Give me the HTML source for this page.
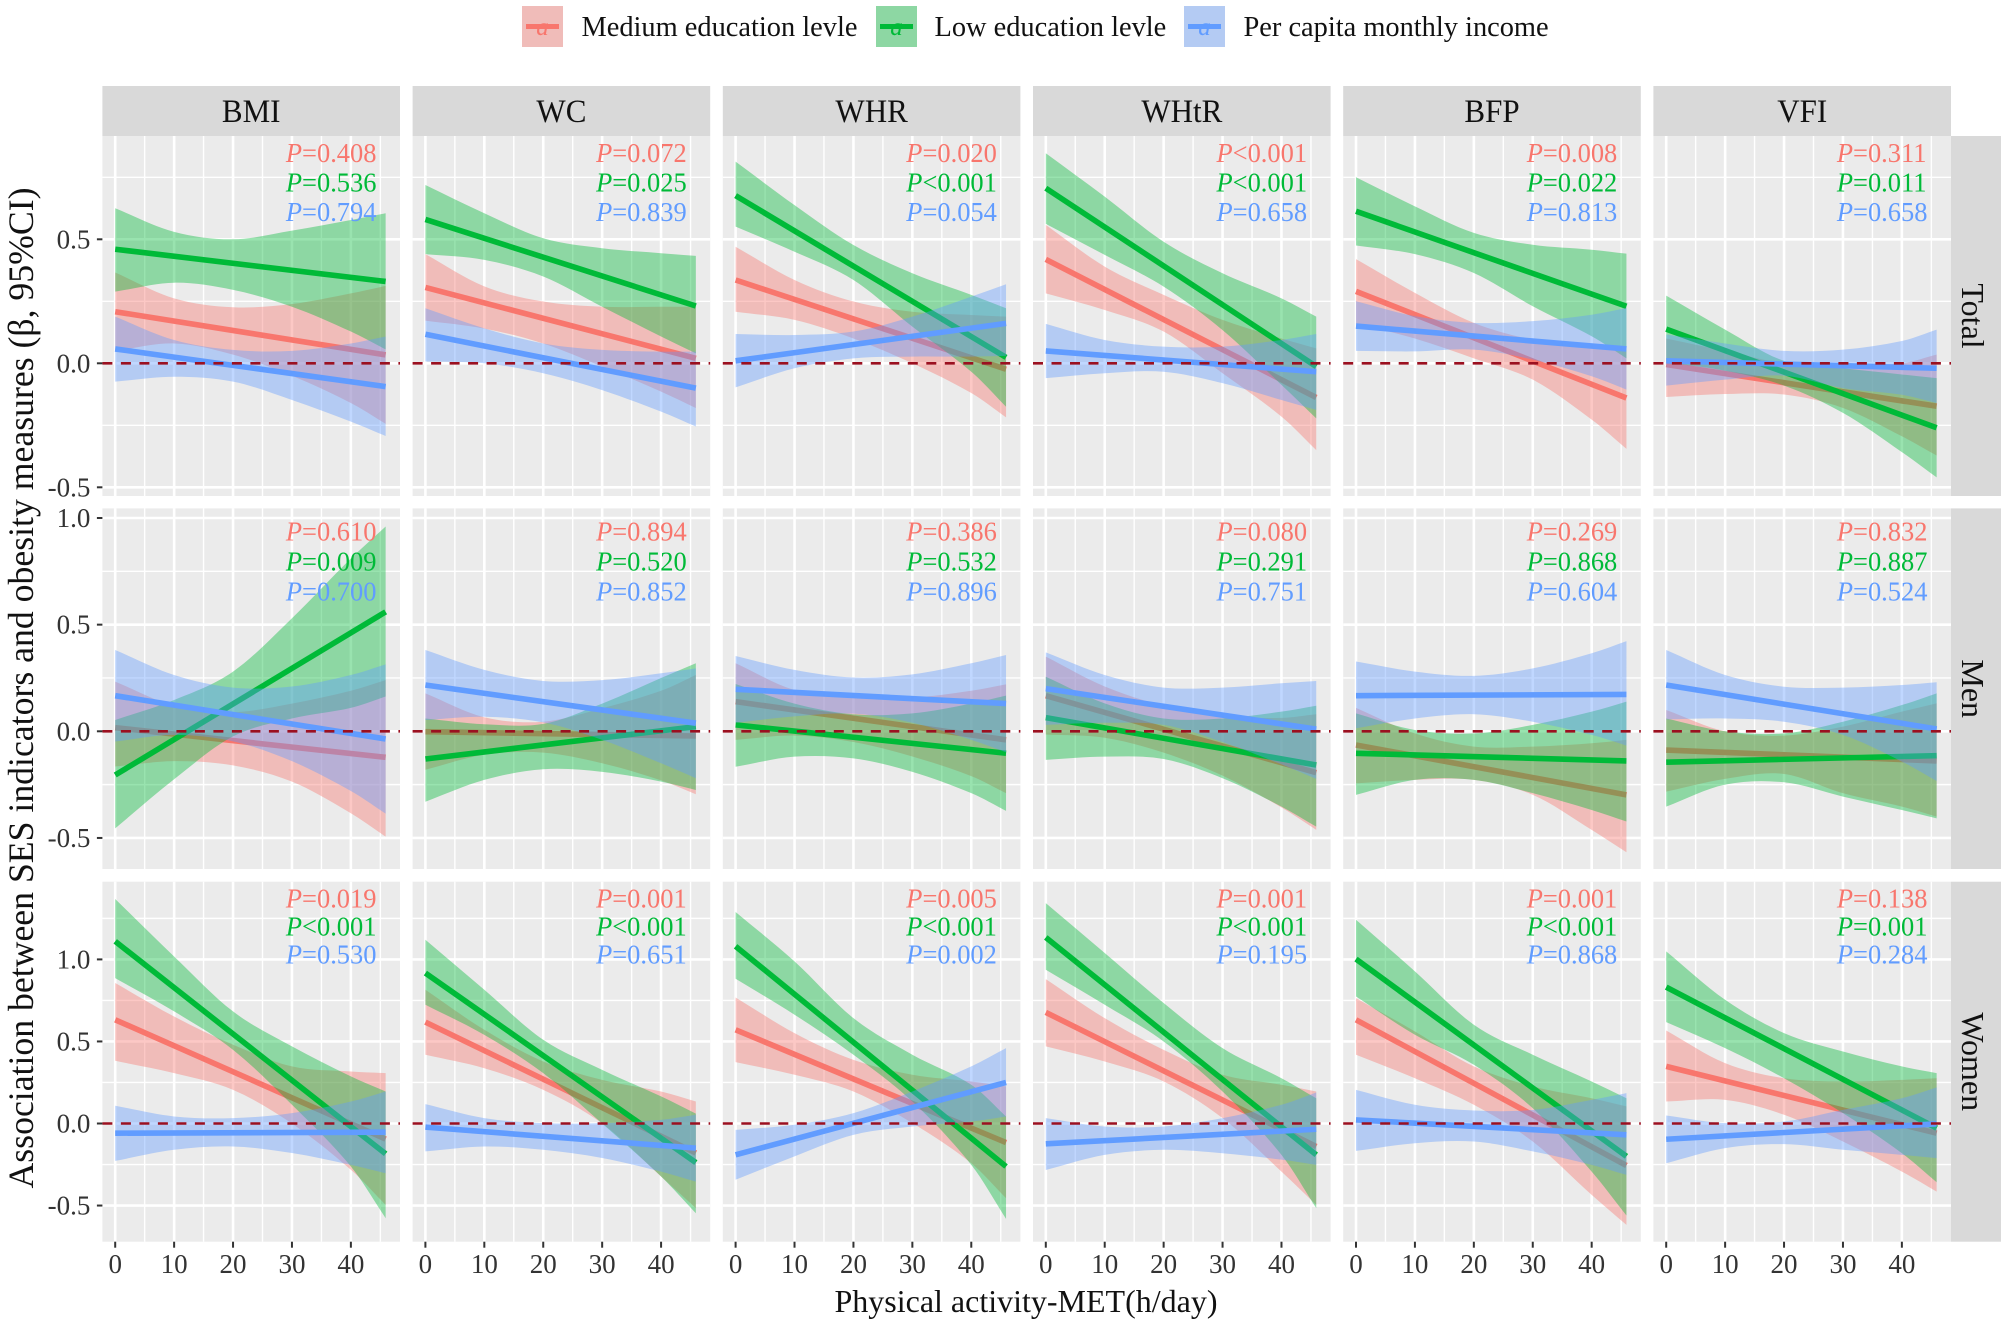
<!DOCTYPE html>
<html lang="en">
<head>
<meta charset="utf-8">
<title>SES indicators and obesity measures by physical activity</title>
<style>
html,body{margin:0;padding:0;background:#fff;}
svg{display:block;font-family:"Liberation Serif","Times New Roman",serif;}
</style>
</head>
<body>
<svg id="chart" xmlns="http://www.w3.org/2000/svg" width="2008" height="1325" viewBox="0 0 2008 1325">
  <rect x="0" y="0" width="2008" height="1325" fill="#fff"/>

  <g>
    <g>
      <rect x="522" y="6" width="41" height="41" fill="#EBEBEB"/>
      <rect x="522" y="6" width="41" height="41" fill="#F8766D" fill-opacity="0.4"/>
      <line x1="526" y1="26.5" x2="559" y2="26.5" stroke="#F8766D" stroke-width="5"/>
      <text x="542.5" y="35" text-anchor="middle" font-size="25" font-style="italic" fill="#F8766D">a</text>
      <text x="581.5" y="36" font-size="28.4" fill="#111">Medium education levle</text>
    </g>
    <g>
      <rect x="876" y="6" width="41" height="41" fill="#EBEBEB"/>
      <rect x="876" y="6" width="41" height="41" fill="#00BA38" fill-opacity="0.4"/>
      <line x1="880" y1="26.5" x2="913" y2="26.5" stroke="#00BA38" stroke-width="5"/>
      <text x="896.5" y="35" text-anchor="middle" font-size="25" font-style="italic" fill="#00BA38">a</text>
      <text x="934.5" y="36" font-size="28.4" fill="#111">Low education levle</text>
    </g>
    <g>
      <rect x="1184" y="6" width="41" height="41" fill="#EBEBEB"/>
      <rect x="1184" y="6" width="41" height="41" fill="#619CFF" fill-opacity="0.4"/>
      <line x1="1188" y1="26.5" x2="1221" y2="26.5" stroke="#619CFF" stroke-width="5"/>
      <text x="1204.5" y="35" text-anchor="middle" font-size="25" font-style="italic" fill="#619CFF">a</text>
      <text x="1243.5" y="36" font-size="28.4" fill="#111">Per capita monthly income</text>
    </g>
  </g>

  <g>
    <rect x="102.4" y="86" width="297.6" height="50" fill="#D9D9D9"/>
    <rect x="412.6" y="86" width="297.6" height="50" fill="#D9D9D9"/>
    <rect x="722.8" y="86" width="297.6" height="50" fill="#D9D9D9"/>
    <rect x="1033" y="86" width="297.6" height="50" fill="#D9D9D9"/>
    <rect x="1343.2" y="86" width="297.6" height="50" fill="#D9D9D9"/>
    <rect x="1653.4" y="86" width="297.6" height="50" fill="#D9D9D9"/>
    <g font-size="33" text-anchor="middle" fill="#111">
      <text transform="translate(251.2,122) scale(.94,1)">BMI</text>
      <text transform="translate(561.4,122) scale(.94,1)">WC</text>
      <text transform="translate(871.6,122) scale(.94,1)">WHR</text>
      <text transform="translate(1181.8,122) scale(.94,1)">WHtR</text>
      <text transform="translate(1492,122) scale(.94,1)">BFP</text>
      <text transform="translate(1802.2,122) scale(.94,1)">VFI</text>
    </g>
  </g>

  <g>
    <rect x="1951" y="136" width="50" height="360" fill="#D9D9D9"/>
    <rect x="1951" y="508.4" width="50" height="360.6" fill="#D9D9D9"/>
    <rect x="1951" y="881.7" width="50" height="360" fill="#D9D9D9"/>
    <g font-size="32" text-anchor="middle" fill="#111">
      <text transform="translate(1962,316) rotate(90)">Total</text>
      <text transform="translate(1962,688.7) rotate(90)">Men</text>
      <text transform="translate(1962,1061.7) rotate(90)">Women</text>
    </g>
  </g>

  <g id="panels"></g>

  <text transform="translate(33,688) rotate(-90)" text-anchor="middle" font-size="36" fill="#111" textLength="1001" lengthAdjust="spacingAndGlyphs">Association between SES indicators and obesity measures (β, 95%CI)</text>
  <text x="1026" y="1312" text-anchor="middle" font-size="32" fill="#111">Physical activity-MET(h/day)</text>
</svg>

<script>
// ---------- data (18 panels: Total row, Men row, Women row; columns BMI WC WHR WHtR BFP VFI) ----------
const rowNames = ["total","men","women"];
const colNames = ["bmi","wc","whr","whtr","bfp","vfi"];
const xTicks = [0,10,20,30,40];
const xMinorTicks = [5,15,25,35,45];
const xKnots = [0,10,20,30,40,45.9];
const xLineEnds = [0,45.9];
const yTicksTotal = [0.5,0,-0.5];
const yTicksMen = [1,0.5,0,-0.5];
const yTicksWomen = [1,0.5,0,-0.5];
const yMinorTotal = [0.75,0.25,-0.25];
const yMinorMen = [0.75,0.25,-0.25];
const yMinorWomen = [1.25,0.75,0.25,-0.25];

const mediumMean = [
[.208,.034],[.306,.02],[.336,-.024],[.419,-.138],[.29,-.14],[-.005,-.173],
[.017,-.122],[-.002,-.022],[.139,-.04],[.167,-.194],[-.064,-.298],[-.088,-.139],
[.632,-.095],[.618,-.18],[.571,-.116],[.677,-.14],[.632,-.256],[.348,-.059]];
const lowMean = [
[.46,.33],[.58,.231],[.676,.024],[.706,-.013],[.613,.23],[.138,-.26],
[-.205,.56],[-.13,.022],[.03,-.103],[.064,-.158],[-.103,-.139],[-.145,-.114],
[1.11,-.185],[.917,-.238],[1.08,-.262],[1.134,-.191],[1.002,-.2],[.831,-.028]];
const incomeMean = [
[.058,-.094],[.117,-.10],[.01,.161],[.05,-.034],[.15,.058],[.01,-.02],
[.167,-.036],[.217,.038],[.197,.13],[.20,.01],[.167,.173],[.217,.011],
[-.059,-.053],[-.022,-.15],[-.191,.25],[-.124,-.035],[.022,-.069],[-.096,-.002]];

const mediumUpper = [
[.366,.262,.226,.239,.282,.312],[.44,.31,.249,.228,.228,.228],[.47,.336,.249,.208,.195,.188],
[.558,.39,.276,.175,.10,.06],[.42,.284,.163,.095,.066,.06],[.10,.05,0,-.01,0,.035],
[.233,.12,.09,.13,.19,.24],[.178,.066,.045,.108,.19,.264],[.319,.194,.165,.158,.19,.22],
[.35,.21,.12,.072,.063,.08],[.11,-.01,-.072,-.072,-.056,-.04],[.1,0,-.02,.022,.092,.131],
[.856,.652,.48,.348,.317,.307],[.815,.571,.378,.266,.195,.134],[.768,.551,.388,.297,.256,.226],
[.88,.642,.449,.297,.236,.195],[.764,.561,.348,.226,.154,.104],[.567,.368,.276,.256,.266,.276]];
const mediumLower = [
[.05,.08,.035,-.05,-.16,-.244],[.172,.14,.08,-.013,-.114,-.18],[.208,.175,.10,0,-.12,-.218],
[.282,.215,.128,-.04,-.215,-.35],[.16,.10,.02,-.066,-.227,-.345],[-.136,-.124,-.126,-.18,-.294,-.372],
[-.165,-.14,-.16,-.236,-.384,-.494],[-.18,-.11,-.1,-.15,-.23,-.295],[-.04,-.02,-.05,-.118,-.21,-.29],
[-.015,-.03,-.10,-.208,-.357,-.462],[-.244,-.228,-.228,-.298,-.462,-.567],[-.283,-.223,-.2,-.29,-.353,-.40],
[.382,.307,.205,0,-.282,-.496],[.419,.337,.205,0,-.323,-.516],[.374,.297,.195,.002,-.242,-.455],
[.47,.378,.256,.033,-.293,-.496],[.419,.276,.114,-.11,-.435,-.618],[.134,.144,.053,-.11,-.293,-.415]];

const lowUpper = [
[.625,.53,.50,.535,.578,.605],[.719,.605,.504,.464,.444,.433],[.813,.638,.477,.363,.276,.222],
[.847,.672,.49,.363,.262,.188],[.75,.633,.526,.478,.458,.442],[.273,.136,.01,-.02,-.045,-.06],
[.053,.147,.28,.53,.81,.96],[.06,.033,.035,.13,.25,.319],[.222,.13,.08,.084,.13,.167],
[.256,.131,.06,.06,.092,.12],[.084,.006,-.01,.03,.092,.139],[.06,0,-.01,.045,.123,.178],
[1.368,1.018,.683,.47,.287,.195],[1.12,.815,.51,.327,.165,.06],[1.289,.988,.642,.419,.236,.043],
[1.343,1.039,.734,.459,.276,.154],[1.242,.927,.602,.419,.256,.154],[1.049,.754,.551,.439,.348,.307]];
const lowLower = [
[.289,.325,.296,.228,.128,.056],[.44,.417,.35,.228,.108,.04],[.551,.45,.336,.148,-.034,-.175],
[.562,.437,.309,.134,-.087,-.222],[.475,.44,.364,.23,.109,.02],[.003,-.03,-.09,-.2,-.358,-.46],
[-.455,-.225,-.024,.06,.11,.163],[-.33,-.228,-.178,-.19,-.236,-.275],[-.166,-.119,-.127,-.19,-.29,-.373],
[-.134,-.119,-.13,-.22,-.353,-.447],[-.298,-.228,-.228,-.29,-.369,-.423],[-.353,-.25,-.239,-.306,-.369,-.408],
[.886,.683,.449,.114,-.262,-.577],[.724,.54,.307,0,-.323,-.547],[.882,.663,.419,.134,-.252,-.581],
[.937,.724,.5,.195,-.191,-.516],[.774,.541,.358,.093,-.293,-.561],[.618,.459,.276,.063,-.181,-.358]];

const incomeUpper = [
[.188,.094,.054,.05,.08,.108],[.222,.141,.08,.054,.047,.047],[.118,.114,.128,.188,.269,.319],
[.159,.094,.067,.067,.094,.118],[.25,.19,.163,.17,.196,.223],[.116,.08,.05,.055,.09,.136],
[.381,.264,.205,.21,.264,.314],[.381,.288,.236,.24,.272,.295],[.353,.288,.252,.267,.319,.358],
[.37,.264,.205,.205,.225,.236],[.327,.28,.26,.295,.366,.423],[.381,.264,.209,.205,.217,.23],
[.108,.043,.033,.063,.134,.195],[.118,.033,.002,.002,.022,.053],[-.039,-.008,.063,.195,.348,.459],
[.033,-.018,-.018,.033,.114,.189],[.205,.114,.079,.083,.144,.185],[.049,.002,.012,.083,.154,.22]];
const incomeLower = [
[-.074,-.054,-.074,-.148,-.235,-.293],[.007,0,-.04,-.108,-.195,-.255],[-.097,-.02,.02,.027,.027,.03],
[-.06,-.04,-.034,-.08,-.148,-.188],[.05,.048,.055,.015,-.052,-.106],[-.09,-.066,-.05,-.10,-.127,-.16],
[-.048,-.017,-.047,-.14,-.28,-.386],[.053,.068,.042,-.04,-.15,-.22],[.04,.07,.083,.04,-.04,-.098],
[.03,.04,.03,-.05,-.155,-.223],[.014,.06,.08,.045,-.017,-.067],[.056,.06,.045,-.017,-.142,-.233],
[-.228,-.16,-.14,-.18,-.252,-.303],[-.17,-.14,-.16,-.21,-.293,-.354],[-.343,-.2,-.069,-.018,.012,.043],
[-.283,-.191,-.16,-.181,-.22,-.252],[-.167,-.12,-.11,-.17,-.252,-.313],[-.242,-.15,-.126,-.16,-.191,-.211]];

const pMedium = ["=0.408","=0.072","=0.020","<0.001","=0.008","=0.311",
"=0.610","=0.894","=0.386","=0.080","=0.269","=0.832",
"=0.019","=0.001","=0.005","=0.001","=0.001","=0.138"];
const pLow = ["=0.536","=0.025","<0.001","<0.001","=0.022","=0.011",
"=0.009","=0.520","=0.532","=0.291","=0.868","=0.887",
"<0.001","<0.001","<0.001","<0.001","<0.001","=0.001"];
const pIncome = ["=0.794","=0.839","=0.054","=0.658","=0.813","=0.658",
"=0.700","=0.852","=0.896","=0.751","=0.604","=0.524",
"=0.530","=0.651","=0.002","=0.195","=0.868","=0.284"];

// ---------- layout and axis functions ----------
const NS = "http://www.w3.org/2000/svg";
const panelW = 297.6, colPitch = 310.2, firstLeft = 102.4;
const rowTop = [136, 508.4, 881.7], rowBottom = [496, 869, 1241.7];
const rowZero = [363.3, 731.3, 1123.5], rowPerUnit = [248, 213.3, 164.1];
const pBaselines = [[162,191.7,221],[540.7,570.7,600.7],[907.7,935.7,963.3]];
const yTicksByRow = [yTicksTotal, yTicksMen, yTicksWomen];
const yMinorByRow = [yMinorTotal, yMinorMen, yMinorWomen];
function panelLeft(c){ return firstLeft + colPitch*c; }
function xScale(c,v){ return panelLeft(c) + 12.8 + 5.892*v; }
function yScale(r,v){ return rowZero[r] - rowPerUnit[r]*v; }

function make(tag, attrs, parent){
  const el = document.createElementNS(NS, tag);
  for (const k in attrs) el.setAttribute(k, attrs[k]);
  parent.appendChild(el);
  return el;
}
// smooth curve through knots (Hermite tangents converted to Bezier)
function curveSegs(xs, ys){
  const n = xs.length, t = [];
  for (let i=0;i<n;i++){
    if (i===0) t.push((ys[1]-ys[0])/(xs[1]-xs[0]));
    else if (i===n-1) t.push((ys[n-1]-ys[n-2])/(xs[n-1]-xs[n-2]));
    else t.push((ys[i+1]-ys[i-1])/(xs[i+1]-xs[i-1]));
  }
  let d = "";
  for (let i=0;i<n-1;i++){
    const h = (xs[i+1]-xs[i])/3;
    d += "C"+(xs[i]+h).toFixed(2)+" "+(ys[i]+t[i]*h).toFixed(2)+" "+(xs[i+1]-h).toFixed(2)+" "+(ys[i+1]-t[i+1]*h).toFixed(2)+" "+xs[i+1].toFixed(2)+" "+ys[i+1].toFixed(2);
  }
  return d;
}
function ribbonPath(c,r,upper,lower){
  const xs = xKnots.map(function(v){return xScale(c,v);});
  const yu = upper.map(function(v){return yScale(r,v);});
  const yl = lower.map(function(v){return yScale(r,v);}).reverse();
  const xr = xs.slice().reverse();
  return "M"+xs[0].toFixed(2)+" "+yu[0].toFixed(2)+curveSegs(xs,yu)+"L"+xr[0].toFixed(2)+" "+yl[0].toFixed(2)+curveSegs(xr,yl)+"Z";
}

const seriesList = [
  {key:"medium", color:"#F8766D", mean:mediumMean, upper:mediumUpper, lower:mediumLower, p:pMedium},
  {key:"low", color:"#00BA38", mean:lowMean, upper:lowUpper, lower:lowLower, p:pLow},
  {key:"income", color:"#619CFF", mean:incomeMean, upper:incomeUpper, lower:incomeLower, p:pIncome}
];

const root = document.getElementById("panels");
for (let r=0;r<3;r++){
  for (let c=0;c<6;c++){
    const idx = r*6+c;
    const L = panelLeft(c), T = rowTop[r], B = rowBottom[r], R = L+panelW;
    const g = make("g",{},root);
    
    
    const bg = make("rect",{x:L,y:T,width:panelW,height:B-T,fill:"#EBEBEB"},g);
    
    

    yMinorByRow[r].forEach(function(v){
      const ln = make("line",{x1:L,x2:R,y1:yScale(r,v),y2:yScale(r,v),stroke:"#fff","stroke-width":1.4},g);
      
      
    });
    xMinorTicks.forEach(function(v){
      const ln = make("line",{x1:xScale(c,v),x2:xScale(c,v),y1:T,y2:B,stroke:"#fff","stroke-width":1.4},g);
      
      
    });
    yTicksByRow[r].forEach(function(v){
      const ln = make("line",{x1:L,x2:R,y1:yScale(r,v),y2:yScale(r,v),stroke:"#fff","stroke-width":2.6},g);
      
      
    });
    xTicks.forEach(function(v){
      const ln = make("line",{x1:xScale(c,v),x2:xScale(c,v),y1:T,y2:B,stroke:"#fff","stroke-width":2.6},g);
      
      
    });

    seriesList.forEach(function(s){
      const rb = make("path",{d:ribbonPath(c,r,s.upper[idx],s.lower[idx]),fill:s.color,"fill-opacity":0.4},g);
      
      
      const ln = make("line",{
        x1:xScale(c,xLineEnds[0]),y1:yScale(r,s.mean[idx][0]),
        x2:xScale(c,xLineEnds[1]),y2:yScale(r,s.mean[idx][1]),
        stroke:s.color,"stroke-width":5.6},g);
      
      
    });

    const zero = make("line",{x1:L,x2:R,y1:yScale(r,0),y2:yScale(r,0),stroke:"#9B1020","stroke-width":2.6,"stroke-dasharray":"10 8.5"},g);
    
    

    seriesList.forEach(function(s,i){
      const t = make("text",{x:L+183.5,y:pBaselines[r][i],"font-size":27,fill:s.color,transform:"translate("+(L+183.5)*0.02+",0) scale(.98,1)"},g);
      
      
      const ital = make("tspan",{"font-style":"italic"},t);
      ital.textContent = "P";
      const rest = make("tspan",{},t);
      rest.textContent = s.p[idx];
    });

    if (c===0){
      yTicksByRow[r].forEach(function(v){
        const tk = make("line",{x1:L-5.5,x2:L,y1:yScale(r,v),y2:yScale(r,v),stroke:"#333","stroke-width":2},g);
        
        
        const lb = make("text",{x:L-12,y:yScale(r,v)+9,"text-anchor":"end","font-size":27,fill:"#333"},g);
        
        
        lb.textContent = v.toFixed(1);
      });
    }
    if (r===2){
      xTicks.forEach(function(v){
        const tk = make("line",{x1:xScale(c,v),x2:xScale(c,v),y1:B,y2:B+6,stroke:"#333","stroke-width":2},g);
        
        
        const lb = make("text",{x:xScale(c,v),y:1273,"text-anchor":"middle","font-size":27,fill:"#333"},g);
        
        
        lb.textContent = String(v);
      });
    }
  }
}
</script>
</body>
</html>
